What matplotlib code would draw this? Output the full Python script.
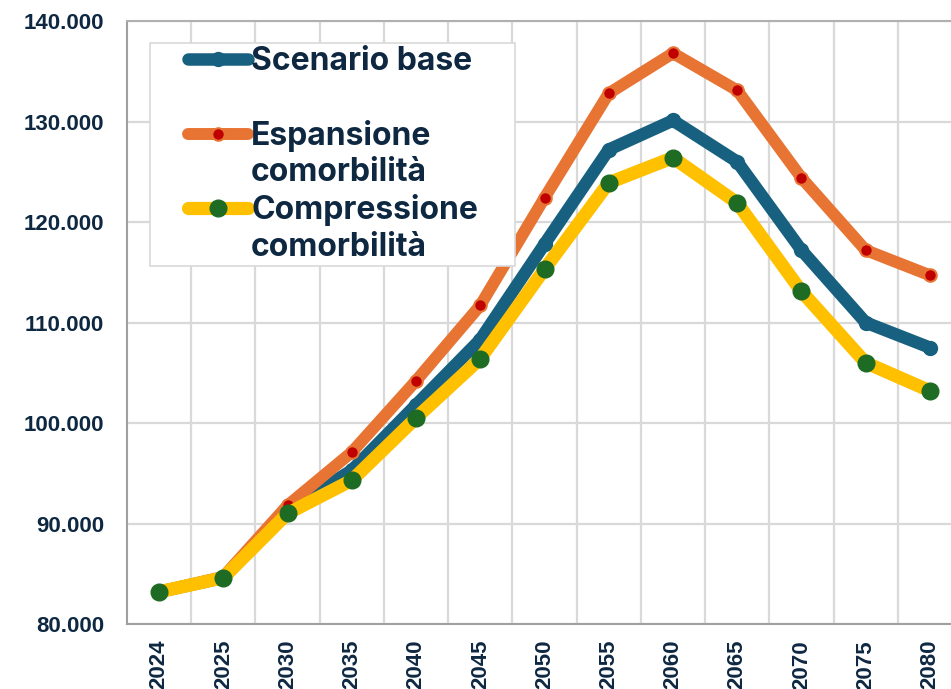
import matplotlib
matplotlib.use("Agg")
import matplotlib.pyplot as plt
from matplotlib.lines import Line2D
from matplotlib.legend_handler import HandlerLine2D
from matplotlib.ticker import FuncFormatter, MultipleLocator

anni = ["2024", "2025", "2030", "2035", "2040", "2045", "2050",
        "2055", "2060", "2065", "2070", "2075", "2080"]
scenario_base = [83200, 84600, 91300, 95300, 101800, 108300, 117800,
                 127200, 130100, 126000, 117200, 110000, 107500]
espansione = [83200, 84700, 91800, 97100, 104200, 111700, 122400,
              132800, 136800, 133100, 124400, 117200, 114700]
compressione = [83200, 84600, 91000, 94300, 100500, 106400, 115300,
                123900, 126400, 121900, 113100, 106000, 103200]

testo = "#0E2841"
griglia = "#D9D9D9"

fig = plt.figure(figsize=(9.51, 6.89), dpi=100)
ax = fig.add_axes([127 / 951, 65 / 689, 835 / 951, 603 / 689])

x = list(range(len(anni)))
l1, = ax.plot(x, scenario_base, color="#17607F", lw=9, marker="o", ms=10,
              mfc="#17607F", mec="#17607F", solid_capstyle="round",
              solid_joinstyle="round", zorder=3)
l2, = ax.plot(x, espansione, color="#E87433", lw=8.6, marker="o", ms=9,
              mfc="#C00000", mec="#E87433", mew=1.5, solid_capstyle="round",
              solid_joinstyle="round", zorder=4)
l3, = ax.plot(x, compressione, color="#FFC000", lw=9.5, marker="o", ms=12,
              mfc="#1E6B24", mec="#1E6B24", solid_capstyle="round",
              solid_joinstyle="round", zorder=5)

ax.set_xlim(-0.5, 12.5)
ax.set_ylim(80000, 140000)
ax.yaxis.set_major_locator(MultipleLocator(10000))
ax.yaxis.set_major_formatter(FuncFormatter(lambda v, p: f"{int(v):,}".replace(",", ".")))
ax.set_xticks(x)
ax.set_xticklabels(anni, rotation=90)
ax.set_xticks([i + 0.5 for i in x], minor=True)

ax.grid(False)
ax.grid(True, which="major", axis="y", color=griglia, lw=1.6, zorder=0)
ax.grid(True, which="minor", axis="x", color=griglia, lw=1.6, zorder=0)
ax.tick_params(which="both", length=0)
ax.tick_params(axis="y", pad=16.5, labelcolor=testo)
ax.tick_params(axis="x", pad=11.5, labelcolor=testo)
for lab in ax.get_xticklabels() + ax.get_yticklabels():
    lab.set_fontfamily("Liberation Sans")
    lab.set_fontweight("bold")
    lab.set_fontsize(16)

ax.spines["right"].set_visible(False)
ax.spines["left"].set_color("#A0A0A0")
ax.spines["left"].set_linewidth(1.5)
ax.spines["top"].set_color("#B0B0B0")
ax.spines["top"].set_linewidth(1.5)
ax.spines["bottom"].set_color("#A0A0A0")
ax.spines["bottom"].set_linewidth(1.5)
ax.spines["bottom"].set_linestyle((0, (1, 1)))

# legenda: righe vuote per imitare gli a capo di Excel
vuoto = Line2D([], [], linestyle="none")
handles = [l1, vuoto, l2, vuoto, l3, vuoto]
labels = ["Scenario base", " ", "Espansione", "comorbilità", "Compressione", "comorbilità"]
fs_px = 23 * 100 / 72
bp = 0.1
hmap = {l: HandlerLine2D(xpad=(38 - bp * fs_px) / fs_px) for l in (l1, l2, l3)}
leg = ax.legend(handles, labels, loc="upper left", mode="expand",
                bbox_to_anchor=(23 / 835, 0, 365 / 835, 1 - 22 / 603),
                handler_map=hmap,
                frameon=True, fancybox=False, framealpha=1, edgecolor=griglia,
                handlelength=(98 - bp * fs_px) / fs_px, handletextpad=0.1,
                labelspacing=0.18, borderpad=bp, borderaxespad=0,
                prop={"family": "Inter", "weight": "bold", "size": 23})
leg.get_frame().set_linewidth(1.2)
for t in leg.get_texts():
    t.set_color(testo)
leg.set_zorder(10)

fig.savefig("out.png", dpi=100)
